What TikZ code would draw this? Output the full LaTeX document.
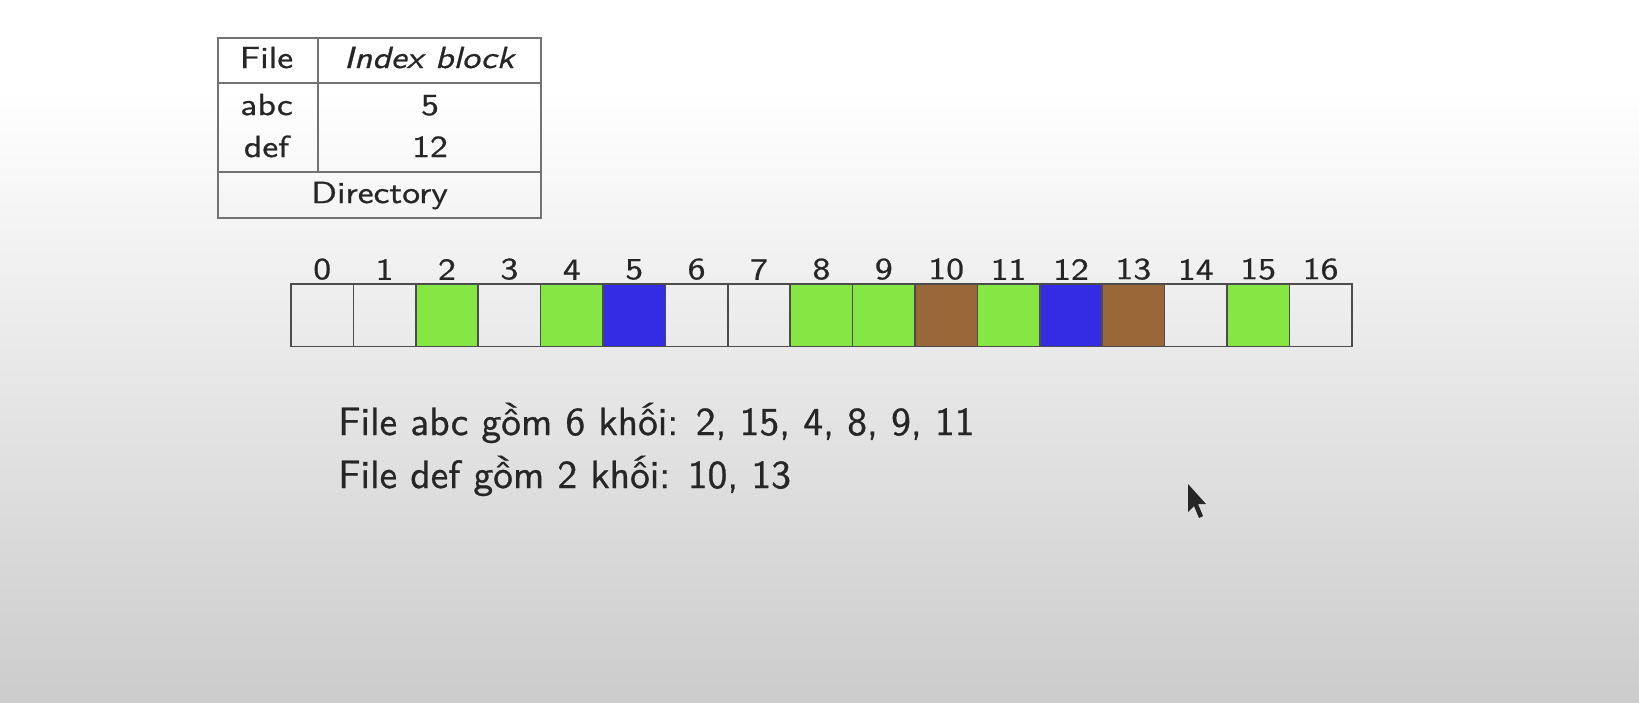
\documentclass[tikz,border=0pt]{standalone}
\usepackage{fontspec}
\setsansfont{lmsans10-regular.otf}[ItalicFont=lmsans10-oblique.otf, BoldFont=lmsans10-bold.otf, FakeBold=0.7]
\renewcommand{\familydefault}{\sfdefault}
\usepackage{graphicx}
\usetikzlibrary{positioning}

\definecolor{blkgreen}{RGB}{133,230,68}
\definecolor{blkblue}{RGB}{52,44,228}
\definecolor{blkbrown}{RGB}{153,103,56}
\definecolor{bgbottom}{RGB}{204,204,204}

\newcommand{\wide}[1]{\scalebox{1.17}[1]{#1}}

\begin{document}
\begin{tikzpicture}[x=1pt, y=-1pt,
    cell/.style={draw=black!70, line width=1.5pt, minimum size=62.4pt, inner sep=0pt, outer sep=0pt, anchor=north west},
    small/.style={font=\fontsize{30.5}{36}\selectfont, text=black!85, inner sep=0pt, anchor=base},
    big/.style={font=\fontsize{39.5}{47}\selectfont, text=black!85, inner sep=0pt, anchor=base west},
    rule/.style={draw=black!55, line width=2pt}]

        % background
        \fill[white] (0,0) rectangle (1639,90);
        \shade[top color=white, bottom color=bgbottom] (0,90) rectangle (1639,702);

        % directory
        \draw[rule] (218,38) rectangle (541,218);
        \draw[rule] (218,83) -- (541,83);
        \draw[rule] (218,172) -- (541,172);
        \draw[rule] (317.5,38) -- (317.5,172);

        \node[small] (hfile) at (266.5,68) {\wide{File}};
        \node[small] (hindex) at (429,68) {\wide{\itshape Index block}};
        \node[small] (fabc) at (266.5,115) {\wide{abc}};
        \node[small] (fdef) at (266.5,157) {\wide{def}};
        \node[small] (iabc) at (430,115) {\wide{5}};
        \node[small] (idef) at (430,157) {\wide{12}};
        \node[small] (dir) at (379.5,203) {\wide{Directory}};

        % disk blocks
        \foreach \c [count=\i from 0] in {none,none,blkgreen,none,blkgreen,blkblue,none,none,
            blkgreen,blkgreen,blkbrown,blkgreen,blkblue,blkbrown,none,blkgreen,none} {
          \node[cell, fill=\c] (b\i) at (291+62.4*\i,284) {};
          \node[small, anchor=south, above=4pt of b\i] (n\i) {\wide{\i}};
        }

        \node[big] (abc) at (338,435) {File abc gồm 6 khối: 2, 15, 4, 8, 9, 11};
        \node[big] (def) at (338,488) {File def gồm 2 khối: 10, 13};

        % pointer
        \fill[black!85] (1188,484) -- (1188,512) -- (1194,506) -- (1199,518)
          -- (1203,516) -- (1198,504) -- (1206,504) -- cycle;
      \end{tikzpicture}
\end{document}
